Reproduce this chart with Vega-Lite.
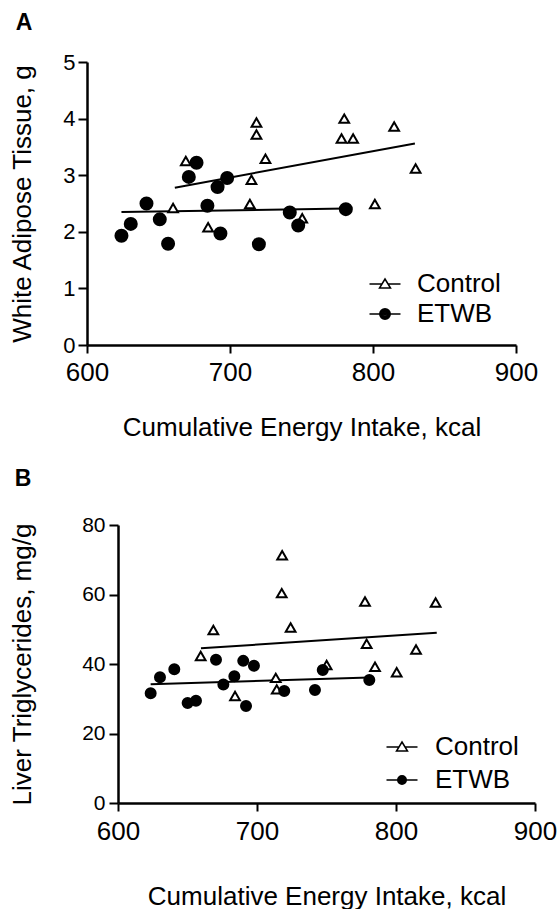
{
  "$schema": "https://vega.github.io/schema/vega-lite/v6.json",
  "padding": {"left": 9, "top": 11, "right": 5, "bottom": 0},
  "background": "white",
  "config": {
    "font": "Liberation Sans",
    "view": {"stroke": null},
    "axis": {
      "grid": false,
      "domainColor": "black",
      "domainWidth": 2.5,
      "tickColor": "black",
      "tickWidth": 2,
      "labelColor": "black",
      "titleColor": "black",
      "labelFont": "Liberation Sans",
      "titleFont": "Liberation Sans",
      "titleFontWeight": "normal",
      "labelFlush": false,
      "labelOverlap": false,
      "format": "d"
    },
    "legend": {
      "labelFont": "Liberation Sans",
      "labelColor": "black",
      "labelFontSize": 26,
      "padding": 0
    }
  },
  "datasets": {
    "fatPts": [
      {"group": "Control", "kcal": 669.1, "value": 3.25},
      {"group": "Control", "kcal": 718.5, "value": 3.93},
      {"group": "Control", "kcal": 718.5, "value": 3.72},
      {"group": "Control", "kcal": 724.8, "value": 3.29},
      {"group": "Control", "kcal": 715.0, "value": 2.92},
      {"group": "Control", "kcal": 660.2, "value": 2.42},
      {"group": "Control", "kcal": 713.9, "value": 2.49},
      {"group": "Control", "kcal": 684.7, "value": 2.08},
      {"group": "Control", "kcal": 750.5, "value": 2.24},
      {"group": "Control", "kcal": 779.9, "value": 4.00},
      {"group": "Control", "kcal": 778.0, "value": 3.65},
      {"group": "Control", "kcal": 786.1, "value": 3.65},
      {"group": "Control", "kcal": 814.8, "value": 3.86},
      {"group": "Control", "kcal": 829.8, "value": 3.12},
      {"group": "Control", "kcal": 801.3, "value": 2.49},
      {"group": "ETWB", "kcal": 624.1, "value": 1.93},
      {"group": "ETWB", "kcal": 630.6, "value": 2.14},
      {"group": "ETWB", "kcal": 641.6, "value": 2.50},
      {"group": "ETWB", "kcal": 650.9, "value": 2.22},
      {"group": "ETWB", "kcal": 656.7, "value": 1.79},
      {"group": "ETWB", "kcal": 671.2, "value": 2.97},
      {"group": "ETWB", "kcal": 676.6, "value": 3.22},
      {"group": "ETWB", "kcal": 684.2, "value": 2.46},
      {"group": "ETWB", "kcal": 691.3, "value": 2.79},
      {"group": "ETWB", "kcal": 698.0, "value": 2.95},
      {"group": "ETWB", "kcal": 693.3, "value": 1.97},
      {"group": "ETWB", "kcal": 720.2, "value": 1.78},
      {"group": "ETWB", "kcal": 741.8, "value": 2.34},
      {"group": "ETWB", "kcal": 747.7, "value": 2.11},
      {"group": "ETWB", "kcal": 781.0, "value": 2.40}
    ],
    "fatLines": [
      {"group": "Control", "kcal": 661.4, "value": 2.78},
      {"group": "Control", "kcal": 829.3, "value": 3.56},
      {"group": "ETWB", "kcal": 624.1, "value": 2.35},
      {"group": "ETWB", "kcal": 781.0, "value": 2.41}
    ],
    "tgPts": [
      {"group": "Control", "kcal": 718.1, "value": 71.3},
      {"group": "Control", "kcal": 717.8, "value": 60.4},
      {"group": "Control", "kcal": 724.2, "value": 50.5},
      {"group": "Control", "kcal": 668.6, "value": 49.8},
      {"group": "Control", "kcal": 659.5, "value": 42.3},
      {"group": "Control", "kcal": 684.2, "value": 30.8},
      {"group": "Control", "kcal": 713.5, "value": 36.0},
      {"group": "Control", "kcal": 714.2, "value": 32.7},
      {"group": "Control", "kcal": 750.1, "value": 39.7},
      {"group": "Control", "kcal": 777.7, "value": 58.0},
      {"group": "Control", "kcal": 778.9, "value": 45.8},
      {"group": "Control", "kcal": 784.9, "value": 39.2},
      {"group": "Control", "kcal": 800.5, "value": 37.6},
      {"group": "Control", "kcal": 814.4, "value": 44.2},
      {"group": "Control", "kcal": 828.5, "value": 57.7},
      {"group": "ETWB", "kcal": 623.5, "value": 31.6},
      {"group": "ETWB", "kcal": 630.2, "value": 36.2},
      {"group": "ETWB", "kcal": 640.5, "value": 38.5},
      {"group": "ETWB", "kcal": 650.1, "value": 28.8},
      {"group": "ETWB", "kcal": 656.1, "value": 29.4},
      {"group": "ETWB", "kcal": 670.5, "value": 41.2},
      {"group": "ETWB", "kcal": 675.8, "value": 34.1},
      {"group": "ETWB", "kcal": 683.7, "value": 36.5},
      {"group": "ETWB", "kcal": 690.1, "value": 40.9},
      {"group": "ETWB", "kcal": 697.8, "value": 39.5},
      {"group": "ETWB", "kcal": 692.1, "value": 27.9},
      {"group": "ETWB", "kcal": 719.6, "value": 32.2},
      {"group": "ETWB", "kcal": 741.7, "value": 32.5},
      {"group": "ETWB", "kcal": 747.3, "value": 38.3},
      {"group": "ETWB", "kcal": 780.8, "value": 35.4}
    ],
    "tgLines": [
      {"group": "Control", "kcal": 659.7, "value": 44.5},
      {"group": "Control", "kcal": 829.3, "value": 49.0},
      {"group": "ETWB", "kcal": 623.5, "value": 34.2},
      {"group": "ETWB", "kcal": 780.8, "value": 36.1}
    ]
  },
  "concat": [
    {
      "title": {"text": "A", "anchor": "start", "frame": "bounds", "fontSize": 23, "fontWeight": "bold", "font": "Liberation Sans", "color": "black", "offset": 16.5, "dx": 6},
      "width": 429,
      "height": 283,
      "layer": [
        {
          "data": {"name": "fatLines"},
          "mark": {"type": "line", "color": "black", "strokeWidth": 2},
          "encoding": {
            "x": {"field": "kcal", "type": "quantitative", "scale": {"domain": [600, 900], "nice": false, "zero": false},
                  "axis": {"values": [600, 700, 800, 900], "tickSize": 8, "labelFontSize": 26, "labelPadding": 6, "titleFontSize": 26, "titlePadding": 29, "title": "Cumulative Energy Intake, kcal"}},
            "y": {"field": "value", "type": "quantitative", "scale": {"domain": [0, 5], "nice": false},
                  "axis": {"values": [0, 1, 2, 3, 4, 5], "tickSize": 9, "labelFontSize": 22, "labelPadding": 3, "titleFontSize": 26, "titlePadding": 27, "title": "White Adipose Tissue, g"}},
            "detail": {"field": "group"}
          }
        },
        {
          "data": {"name": "fatPts"},
          "mark": {"type": "point", "filled": true, "stroke": "black", "strokeWidth": 2, "opacity": 1},
          "encoding": {
            "x": {"field": "kcal", "type": "quantitative"},
            "y": {"field": "value", "type": "quantitative"},
            "shape": {"field": "group", "type": "nominal", "scale": {"domain": ["Control", "ETWB"], "range": ["triangle-up", "circle"]}, "legend": null},
            "fill": {"condition": {"test": "datum.group === 'ETWB'", "value": "black"}, "value": "white"},
            "size": {"condition": {"test": "datum.group === 'ETWB'", "value": 144}, "value": 95}
          }
        },
        {
          "data": {"name": "fatLines"},
          "transform": [{"filter": "false"}],
          "mark": {"type": "point", "filled": true, "fill": "white", "stroke": "black", "opacity": 1},
          "encoding": {
            "x": {"field": "kcal", "type": "quantitative"},
            "y": {"field": "value", "type": "quantitative"},
            "shape": {"field": "group", "type": "nominal",
              "scale": {"domain": ["Control", "ETWB"], "range": [
                "M-3.1,0H-0.61M0.61,0H3.1M0,-1L1.1,0.8L-1.1,0.8Z",
                "M-3.1,0H3.1M-1.05,0A1.05,1.05 0 1,0 1.05,0A1.05,1.05 0 1,0 -1.05,0ZM-0.75,0A0.75,0.75 0 1,0 0.75,0A0.75,0.75 0 1,0 -0.75,0ZM-0.45,0A0.45,0.45 0 1,0 0.45,0A0.45,0.45 0 1,0 -0.45,0ZM-0.15,0A0.15,0.15 0 1,0 0.15,0A0.15,0.15 0 1,0 -0.15,0Z"
              ]},
              "legend": {"title": null, "orient": "none", "legendX": 285, "legendY": 209, "rowPadding": 4, "labelOffset": 19}}
          }
        }
      ],
      "resolve": {"scale": {"shape": "independent"}}
    },
    {
      "title": {"text": "B", "anchor": "start", "frame": "bounds", "fontSize": 23, "fontWeight": "bold", "font": "Liberation Sans", "color": "black", "offset": 23, "dx": 5},
      "width": 448,
      "height": 278,
      "layer": [
        {
          "data": {"name": "tgLines"},
          "mark": {"type": "line", "color": "black", "strokeWidth": 2},
          "encoding": {
            "x": {"field": "kcal", "type": "quantitative", "scale": {"domain": [600, 900], "range": [31, 448], "nice": false, "zero": false},
                  "axis": {"values": [600, 700, 800, 900], "tickSize": 8, "labelFontSize": 26, "labelPadding": 7, "titleFontSize": 26, "titlePadding": 39, "titleX": 239.5, "title": "Cumulative Energy Intake, kcal"}},
            "y": {"field": "value", "type": "quantitative", "scale": {"domain": [0, 80], "nice": false},
                  "axis": {"values": [0, 20, 40, 60, 80], "offset": -31, "tickSize": 9, "labelFontSize": 21, "labelPadding": 4, "titleFontSize": 26, "titlePadding": 46, "title": "Liver Triglycerides, mg/g"}},
            "detail": {"field": "group"}
          }
        },
        {
          "data": {"name": "tgPts"},
          "mark": {"type": "point", "filled": true, "stroke": "black", "strokeWidth": 2, "opacity": 1},
          "encoding": {
            "x": {"field": "kcal", "type": "quantitative"},
            "y": {"field": "value", "type": "quantitative"},
            "shape": {"field": "group", "type": "nominal", "scale": {"domain": ["Control", "ETWB"], "range": ["triangle-up", "circle"]}, "legend": null},
            "fill": {"condition": {"test": "datum.group === 'ETWB'", "value": "black"}, "value": "white"},
            "size": {"condition": {"test": "datum.group === 'ETWB'", "value": 100}, "value": 95}
          }
        },
        {
          "data": {"name": "tgLines"},
          "transform": [{"filter": "false"}],
          "mark": {"type": "point", "filled": true, "fill": "white", "stroke": "black", "opacity": 1},
          "encoding": {
            "x": {"field": "kcal", "type": "quantitative"},
            "y": {"field": "value", "type": "quantitative"},
            "shape": {"field": "group", "type": "nominal",
              "scale": {"domain": ["Control", "ETWB"], "range": [
                "M-3.1,0H-0.61M0.61,0H3.1M0,-1L1.1,0.8L-1.1,0.8Z",
                "M-3.1,0H3.1M-0.85,0A0.85,0.85 0 1,0 0.85,0A0.85,0.85 0 1,0 -0.85,0ZM-0.55,0A0.55,0.55 0 1,0 0.55,0A0.55,0.55 0 1,0 -0.55,0ZM-0.25,0A0.25,0.25 0 1,0 0.25,0A0.25,0.25 0 1,0 -0.25,0Z"
              ]},
              "legend": {"title": null, "orient": "none", "legendX": 302, "legendY": 209, "rowPadding": 7, "labelOffset": 20}}
          }
        }
      ],
      "resolve": {"scale": {"shape": "independent"}}
    }
  ],
  "columns": 1,
  "align": "none",
  "spacing": 28,
  "resolve": {
    "scale": {"shape": "independent"},
    "legend": {"shape": "independent"}
  }
}
